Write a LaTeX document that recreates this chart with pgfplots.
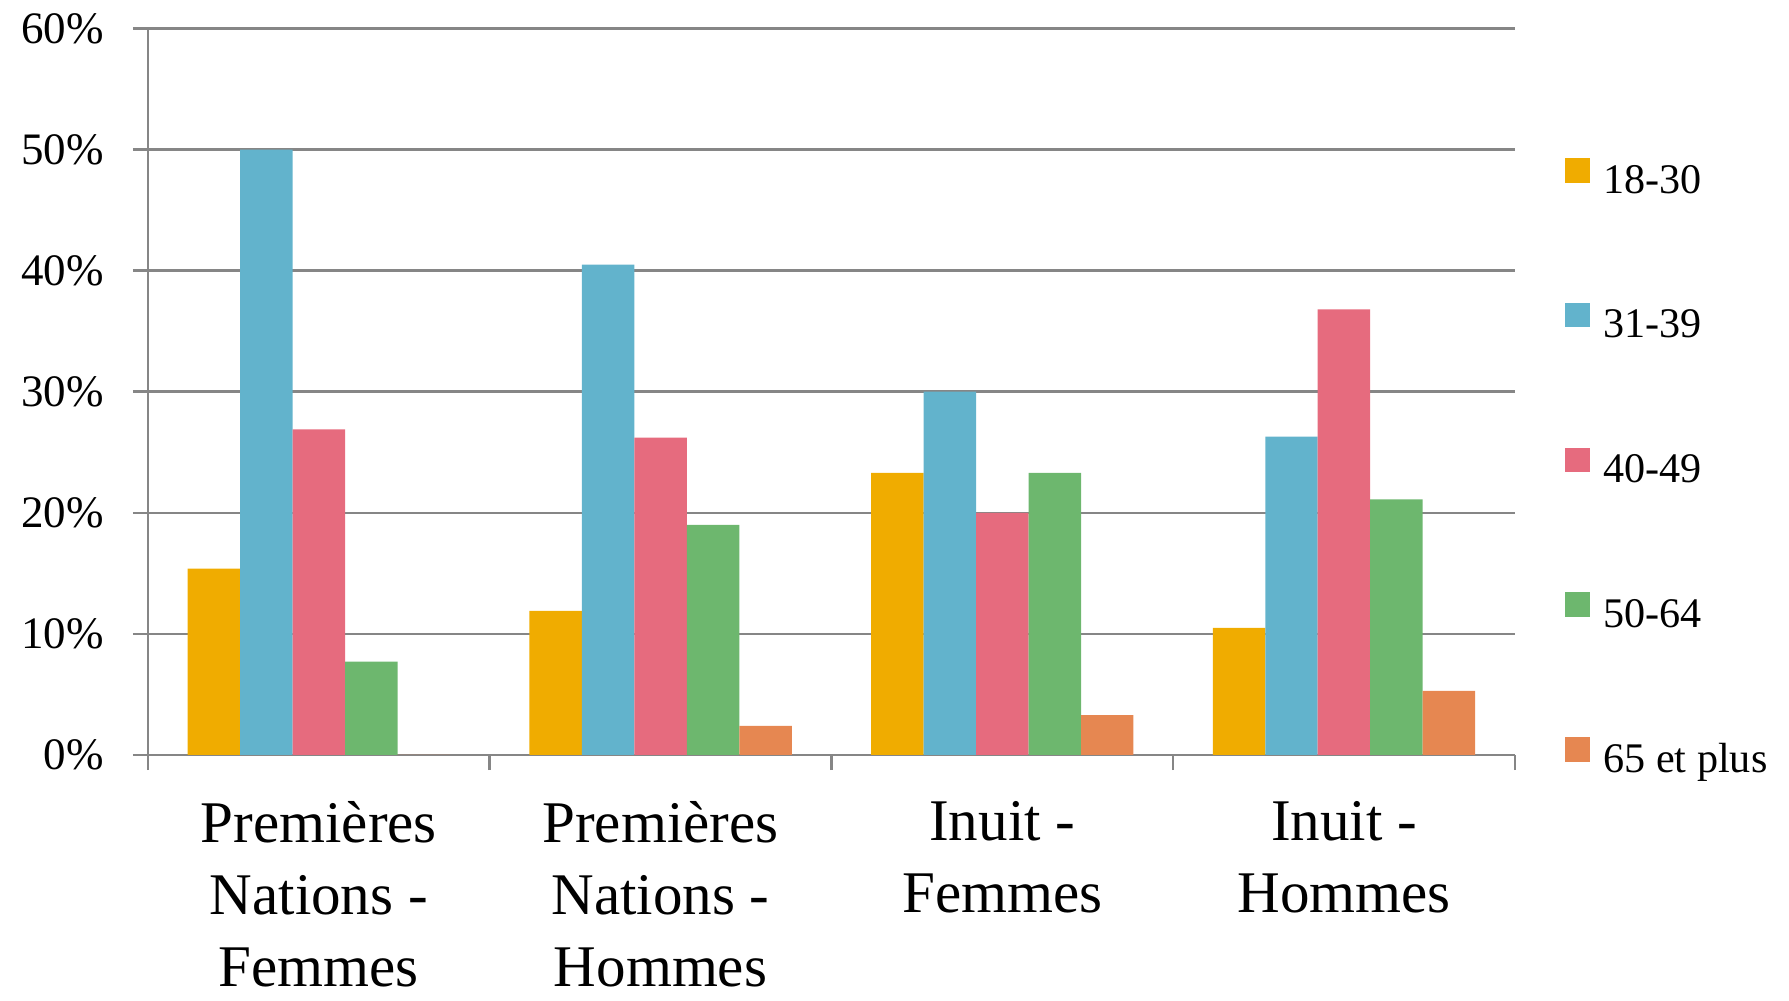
\documentclass[border=0pt]{standalone}
\usepackage{fontspec}
\setmainfont{Liberation Serif}
\usepackage{pgfplots}
\pgfplotsset{compat=1.18}
\definecolor{cA}{HTML}{F0AC00}
\definecolor{cB}{HTML}{62B3CC}
\definecolor{cC}{HTML}{E66B7E}
\definecolor{cD}{HTML}{6DB76E}
\definecolor{cE}{HTML}{E68751}
\definecolor{gridc}{HTML}{868686}
\begin{document}
\begin{tikzpicture}
\begin{axis}[
  width=388.9pt, height=206.7pt, scale only axis,
  at={(0,0)}, anchor=south west,
  ybar=0pt, bar width=0.1536,
  xmin=-0.5, xmax=3.5, ymin=0, ymax=60,
  axis x line*=bottom, axis y line*=left,
  axis line style={gridc, line width=0.7pt},
  tick align=outside,
  xtick={0,1,2,3},
  xticklabels={{Premières\\Nations -\\Femmes},{Premières\\Nations -\\Hommes},{Inuit -\\Femmes},{Inuit -\\Hommes}},
  every major x tick/.append style={draw=none},
  minor xtick={-0.5,0.5,1.5,2.5,3.5},
  minor tick length=4.3pt, major tick length=4.3pt,
  tick style={gridc, line width=0.7pt},
  minor tick style={gridc, line width=0.7pt},
  ytick={0,10,20,30,40,50,60},
  yticklabel={\pgfmathprintnumber{\tick}\%},
  /pgf/number format/assume math mode=true,
  ymajorgrids, major grid style={gridc, line width=0.7pt},
  yticklabel style={font=\fontsize{12.8}{15}\selectfont, anchor=east, inner sep=0pt, xshift=-8.1pt},
  xticklabel style={font=\fontsize{16.8}{20.6}\selectfont, anchor=north, inner sep=0pt, align=center, yshift=-8.6pt},
  legend image code/.code={\fill[#1] (0pt,0pt) rectangle (7pt,7pt);},
  legend cell align=left,
  legend style={at={(1,0.394)}, anchor=west, xshift=14.2pt, draw=none, fill=none,
    inner sep=0pt, row sep=29.2pt, font=\fontsize{12}{14}\selectfont,
    nodes={inner sep=0pt, text height=8pt, text depth=2pt},
    /tikz/every odd column/.append style={column sep=3.8pt}},
]
\addplot[fill=cA, draw=none] coordinates {(0,15.4) (1,11.9) (2,23.3) (3,10.5)};
\addplot[fill=cB, draw=none] coordinates {(0,50.0) (1,40.5) (2,30.0) (3,26.3)};
\addplot[fill=cC, draw=none] coordinates {(0,26.9) (1,26.2) (2,20.0) (3,36.8)};
\addplot[fill=cD, draw=none] coordinates {(0,7.7) (1,19.0) (2,23.3) (3,21.1)};
\addplot[fill=cE, draw=none] coordinates {(0,0) (1,2.4) (2,3.3) (3,5.3)};
\legend{18-30,31-39,40-49,50-64,65 et plus}
\end{axis}
\pgfresetboundingbox
\useasboundingbox (-42.1pt,-69.8pt) rectangle (466.9pt,214.8pt);
\end{tikzpicture}
\end{document}
